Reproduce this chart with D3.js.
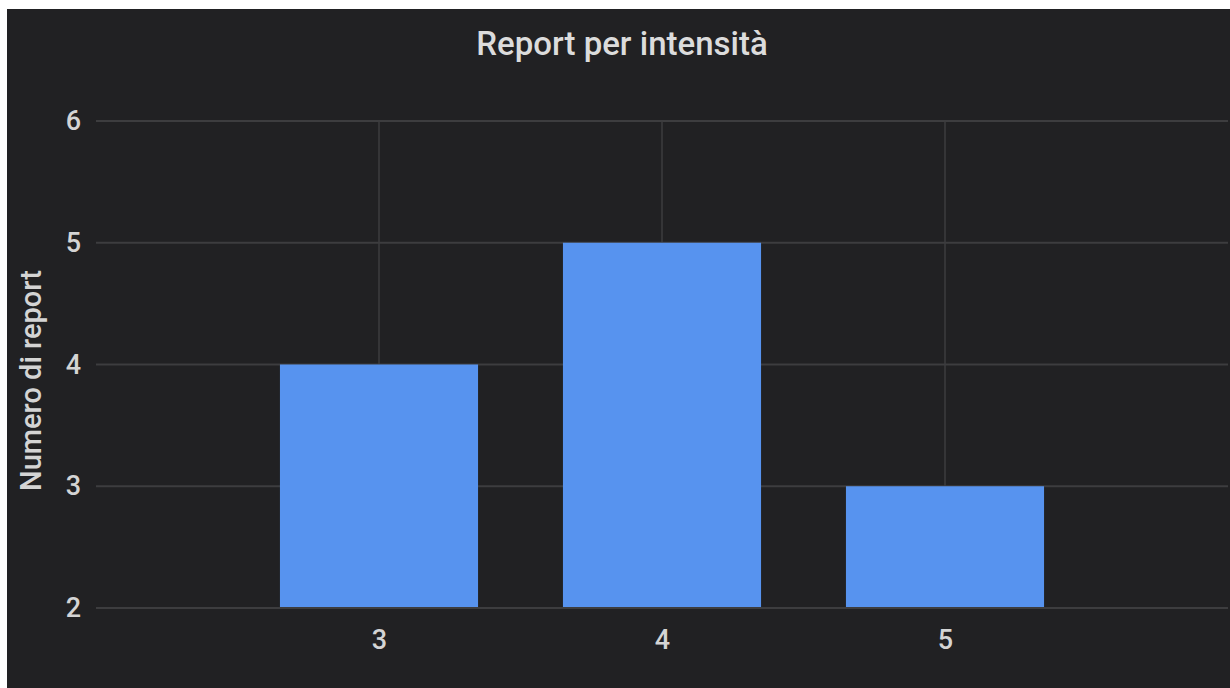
<!DOCTYPE html>
<html>
<head>
<meta charset="utf-8">
<script src="https://cdn.jsdelivr.net/npm/d3@7"></script>
<style>
  html, body { margin: 0; padding: 0; background: #ffffff; }
  svg { display: block; }
  text { font-family: Roboto, "Noto Sans", sans-serif; }
</style>
</head>
<body>
<div id="chart"></div>
<script>
// data
const categories = [3, 4, 5];
const values = [4, 5, 3];
const yTicks = [2, 3, 4, 5, 6];
const title = "Report per intensità";
const yTitle = "Numero di report";

const width = 1230;
const height = 688;
const margin = { top: 121, right: 2, bottom: 80, left: 96 };

const svg = d3.select("#chart")
  .append("svg")
  .attr("width", width)
  .attr("height", height);

// dark panel
svg.append("rect")
  .attr("x", 7)
  .attr("y", 9)
  .attr("width", width - 7)
  .attr("height", height - 9)
  .attr("fill", "#212123");

/* Scales */
const x = d3.scaleLinear().domain([2, 6]).range([margin.left, width - margin.right]);
const y = d3.scaleLinear().domain([2, 6]).range([height - margin.bottom, margin.top]);

const graph = svg.append("g");

// horizontal gridlines
graph.append("g")
  .selectAll("line")
  .data(yTicks)
  .join("line")
  .attr("x1", x(2))
  .attr("x2", x(6))
  .attr("y1", (d) => y(d))
  .attr("y2", (d) => y(d))
  .attr("stroke", "#3d3d3f")
  .attr("stroke-width", 2);

// vertical gridlines at categories
graph.append("g")
  .selectAll("line")
  .data(categories)
  .join("line")
  .attr("x1", (d) => x(d))
  .attr("x2", (d) => x(d))
  .attr("y1", y(6))
  .attr("y2", y(2))
  .attr("stroke", "#3d3d3f")
  .attr("stroke-width", 1.5);

// bars
const barW = (x(1) - x(0)) * 0.7;
graph.append("g")
  .selectAll("rect")
  .data(categories)
  .join("rect")
  .attr("x", (d) => x(d) - barW / 2)
  .attr("y", (d, i) => y(values[i]))
  .attr("width", barW)
  .attr("height", (d, i) => y(2) - y(values[i]))
  .attr("fill", "#5793ef");

// baseline
graph.append("line")
  .attr("x1", x(2))
  .attr("x2", x(6))
  .attr("y1", y(2))
  .attr("y2", y(2))
  .attr("stroke", "#3d3d3f")
  .attr("stroke-width", 2);

// axes
const yAxis = d3.axisLeft(y).tickValues(yTicks).tickSize(0).tickPadding(15).tickFormat(d3.format("d"));
const xAxis = d3.axisBottom(x).tickValues(categories).tickSize(0).tickPadding(22).tickFormat(d3.format("d"));

const yAxisGroup = svg.append("g")
  .attr("transform", `translate(${margin.left},0)`)
  .call(yAxis);
const xAxisGroup = svg.append("g")
  .attr("transform", `translate(0,${y(2)})`)
  .call(xAxis);

[yAxisGroup, xAxisGroup].forEach((g) => {
  g.select(".domain").remove();
  g.selectAll("text")
    .attr("fill", "#d4d4d4")
    .style("font-size", "27px")
    .style("font-weight", 500);
});

// title
svg.append("text")
  .attr("x", 622)
  .attr("y", 55)
  .attr("text-anchor", "middle")
  .attr("fill", "#dcdcdc")
  .style("font-size", "33px")
  .style("font-weight", 500)
  .text(title);

// y axis title
svg.append("text")
  .attr("transform", `translate(41,${(y(2) + y(6)) / 2 + 16}) rotate(-90)`)
  .attr("text-anchor", "middle")
  .attr("fill", "#d4d4d4")
  .style("font-size", "29px")
  .style("font-weight", 500)
  .text(yTitle);
</script>
</body>
</html>
